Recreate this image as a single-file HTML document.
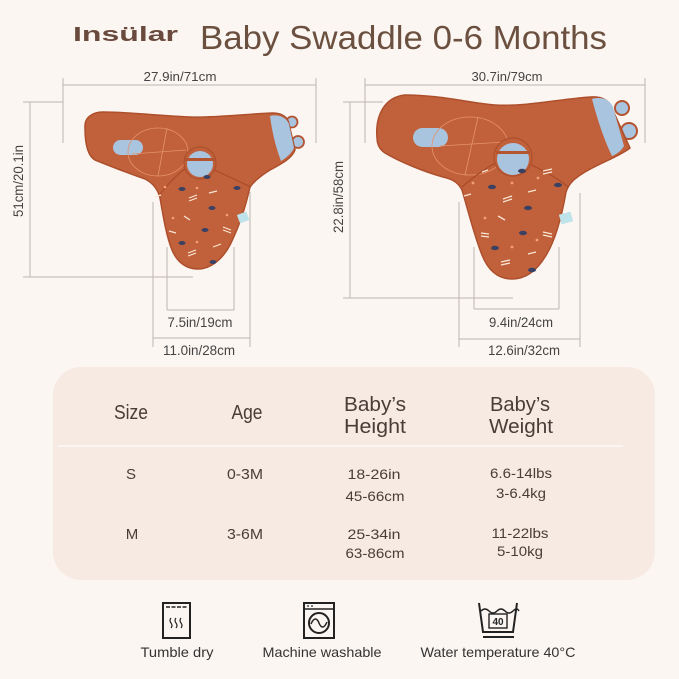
<!DOCTYPE html>
<html><head><meta charset="utf-8">
<style>
html,body{margin:0;padding:0;background:#fcf6f2;}
svg{display:block;}
text{font-family:"Liberation Sans",sans-serif;}
</style></head>
<body>
<svg width="679" height="679" viewBox="0 0 679 679" xmlns="http://www.w3.org/2000/svg">
<rect width="679" height="679" fill="#fcf6f2"/>

<!-- Title -->
<text x="73" y="41" font-size="20" font-weight="bold" fill="#6a4a3c" textLength="105" lengthAdjust="spacingAndGlyphs">Insülar</text>
<text x="200" y="49" font-size="33" fill="#6b5040" textLength="407" lengthAdjust="spacingAndGlyphs">Baby Swaddle 0-6 Months</text>

<!-- Dimension lines -->
<g stroke="#bdb5b0" stroke-width="1" fill="none">
  <!-- left swaddle -->
  <line x1="63" y1="85" x2="316" y2="85"/>
  <line x1="63" y1="78" x2="63" y2="143"/>
  <line x1="316" y1="78" x2="316" y2="143"/>
  <line x1="30" y1="102" x2="30" y2="277"/>
  <line x1="23" y1="102" x2="63" y2="102"/>
  <line x1="23" y1="277" x2="193" y2="277"/>
  <line x1="167" y1="247" x2="167" y2="310"/>
  <line x1="234" y1="247" x2="234" y2="310"/>
  <line x1="167" y1="310" x2="234" y2="310"/>
  <line x1="153" y1="202" x2="153" y2="347"/>
  <line x1="250" y1="192" x2="250" y2="347"/>
  <line x1="153" y1="338" x2="250" y2="338"/>
  <!-- right swaddle -->
  <line x1="365" y1="85" x2="645" y2="85"/>
  <line x1="365" y1="78" x2="365" y2="143"/>
  <line x1="645" y1="78" x2="645" y2="143"/>
  <line x1="350" y1="102" x2="350" y2="298"/>
  <line x1="343" y1="102" x2="383" y2="102"/>
  <line x1="343" y1="298" x2="513" y2="298"/>
  <line x1="474" y1="247" x2="474" y2="309"/>
  <line x1="559" y1="247" x2="559" y2="309"/>
  <line x1="474" y1="309" x2="559" y2="309"/>
  <line x1="459" y1="202" x2="459" y2="347"/>
  <line x1="580" y1="193" x2="580" y2="347"/>
  <line x1="459" y1="339" x2="580" y2="339"/>
</g>

<g fill="#444" font-size="13" text-anchor="middle">
  <text x="180" y="81" textLength="73" lengthAdjust="spacingAndGlyphs">27.9in/71cm</text>
  <text x="507" y="81" textLength="71" lengthAdjust="spacingAndGlyphs">30.7in/79cm</text>
  <text x="200" y="327" font-size="13.5" textLength="65" lengthAdjust="spacingAndGlyphs">7.5in/19cm</text>
  <text x="199" y="355" font-size="13.5" textLength="72" lengthAdjust="spacingAndGlyphs">11.0in/28cm</text>
  <text x="521" y="327" font-size="13.5" textLength="64" lengthAdjust="spacingAndGlyphs">9.4in/24cm</text>
  <text x="524" y="355" font-size="13.5" textLength="72" lengthAdjust="spacingAndGlyphs">12.6in/32cm</text>
  <text transform="translate(23,181) rotate(-90)" font-size="13.5" textLength="72" lengthAdjust="spacingAndGlyphs">51cm/20.1in</text>
  <text transform="translate(343,197) rotate(-90)" font-size="13.5" textLength="72" lengthAdjust="spacingAndGlyphs">22.8in/58cm</text>
</g>

<!-- LEFT SWADDLE -->
<g>
  <circle cx="292" cy="122" r="5.5" fill="#a9c4de" stroke="#b4532f" stroke-width="1.8"/>
  <circle cx="298" cy="142" r="6" fill="#a9c4de" stroke="#b4532f" stroke-width="1.8"/>
  <path d="M85,128 C84,118 92,112 103,112 C130,112 160,116 190,117 C215,118 245,114 273,113 C283,113 288,118 289,124 L295,150 C292,158 283,163 270,170 C262,175 255,180 250,187 C246,205 240,225 230,245 C222,260 210,269 198,269 C186,269 177,262 172,250 C166,235 163,215 160,198 C158,190 153,183 145,179 C130,174 110,166 95,160 C88,156 85,145 85,128 Z" fill="#c1613b" stroke="#ad4f2c" stroke-width="1.5"/>
  <path d="M270,116 C278,114 286,117 289,124 L294,148 C291,154 286,158 281,161 C276,148 272,132 270,116 Z" fill="#a9c4de"/>
  <rect x="113" y="140" width="30" height="15" rx="7.5" fill="#a9c4de"/>
  <ellipse cx="158" cy="152" rx="30" ry="24" fill="none" stroke="#e5936a" stroke-width="0.8"/>
  <line x1="167" y1="128" x2="158" y2="176" stroke="#e5936a" stroke-width="0.8"/>
  <line x1="132" y1="154" x2="186" y2="150" stroke="#e5936a" stroke-width="0.8"/>
  <path d="M160,194 C168,184 178,174 186,168 M214,170 C228,176 240,182 251,187" stroke="#a94a29" stroke-width="1.2" fill="none"/>
  <circle cx="200" cy="163" r="16" fill="#c1613b" stroke="#ad4f2c" stroke-width="1.2"/>
  <circle cx="200" cy="164" r="13" fill="#a9c4de"/>
  <rect x="185" y="158" width="30" height="3" fill="#b5552f"/>
  <rect x="238" y="213" width="10" height="9" fill="#bfe3ea" transform="rotate(-20 243 217)"/>
  <!-- pattern -->
  <g fill="#3b4163">
    <ellipse cx="182" cy="189" rx="3.5" ry="2"/><ellipse cx="207" cy="177" rx="3.5" ry="2"/>
    <ellipse cx="237" cy="188" rx="3.5" ry="2"/><ellipse cx="212" cy="208" rx="3.5" ry="2"/>
    <ellipse cx="205" cy="230" rx="3.5" ry="2"/><ellipse cx="182" cy="243" rx="3.5" ry="2"/>
    <ellipse cx="213" cy="262" rx="3.5" ry="2"/>
  </g>
  <g stroke="#f6e6d4" stroke-width="1.2">
    <path d="M189,198 l8,-3 M189,201 l8,-3"/><path d="M209,193 l8,-2"/>
    <path d="M223,227 l8,3 M223,230 l8,3"/><path d="M188,253 l8,-3 M188,256 l8,-3"/>
    <path d="M169,231 l7,2"/><path d="M155,197 l6,-2"/>
    <path d="M184,216 l6,4"/><path d="M213,247 l8,-3"/>
  </g>
  <g fill="#f1a171">
    <circle cx="165" cy="187" r="1.3"/><circle cx="197" cy="188" r="1.3"/>
    <circle cx="227" cy="215" r="1.3"/><circle cx="173" cy="218" r="1.3"/>
    <circle cx="197" cy="242" r="1.3"/>
  </g>
</g>

<!-- RIGHT SWADDLE -->
<g>
  <circle cx="622" cy="108" r="7" fill="#a9c4de" stroke="#b4532f" stroke-width="2"/>
  <circle cx="629" cy="131" r="8" fill="#a9c4de" stroke="#b4532f" stroke-width="2"/>
  <path d="M377,138 C375,115 385,97 405,95 C440,95 470,103 495,105 C525,107 560,99 590,97 C600,96 606,99 610,104 L630,148 C620,156 600,163 585,172 C575,178 569,183 566,192 C562,215 556,240 545,257 C537,270 526,279 512,279 C498,279 488,270 482,255 C474,235 468,210 462,190 C458,182 452,179 443,177 C425,172 400,162 385,153 C379,149 377,143 377,138 Z" fill="#c1613b" stroke="#ad4f2c" stroke-width="1.5"/>
  <path d="M592,99 C602,96 610,100 613,107 L624,146 C621,151 617,154 612,156 C604,140 597,118 592,99 Z" fill="#a9c4de"/>
  <rect x="413" y="128" width="35" height="19" rx="9.5" fill="#a9c4de"/>
  <ellipse cx="470" cy="146" rx="38" ry="29" fill="none" stroke="#e5936a" stroke-width="0.8"/>
  <line x1="478" y1="117" x2="465" y2="175" stroke="#e5936a" stroke-width="0.8"/>
  <line x1="440" y1="146" x2="505" y2="142" stroke="#e5936a" stroke-width="0.8"/>
  <path d="M462,187 C472,178 486,168 497,162 M530,164 C545,172 558,178 568,187" stroke="#a94a29" stroke-width="1.2" fill="none"/>
  <circle cx="513" cy="157" r="19" fill="#c1613b" stroke="#ad4f2c" stroke-width="1.2"/>
  <circle cx="513" cy="159" r="16" fill="#a9c4de"/>
  <rect x="496" y="151" width="34" height="3" fill="#b5552f"/>
  <rect x="560" y="213" width="12" height="10" fill="#bfe3ea" transform="rotate(-15 566 218)"/>
  <g fill="#3b4163">
    <ellipse cx="522" cy="171" rx="4" ry="2.2"/><ellipse cx="492" cy="187" rx="4" ry="2.2"/>
    <ellipse cx="558" cy="185" rx="4" ry="2.2"/><ellipse cx="528" cy="208" rx="4" ry="2.2"/>
    <ellipse cx="523" cy="233" rx="4" ry="2.2"/><ellipse cx="495" cy="248" rx="4" ry="2.2"/>
    <ellipse cx="532" cy="270" rx="4" ry="2.2"/>
  </g>
  <g stroke="#f6e6d4" stroke-width="1.3">
    <path d="M543,171 l9,-2 M543,174 l9,-2"/><path d="M503,199 l9,-3 M503,202 l9,-3"/>
    <path d="M528,192 l8,-2"/><path d="M498,216 l7,4"/>
    <path d="M543,232 l9,2 M543,235 l9,2"/><path d="M481,233 l8,1 M481,236 l8,1"/>
    <path d="M528,254 l8,-2"/><path d="M501,262 l9,-2 M501,265 l9,-2"/>
    <path d="M464,196 l7,-2"/><path d="M482,172 l6,-2"/>
  </g>
  <g fill="#f1a171">
    <circle cx="512" cy="183" r="1.4"/><circle cx="538" cy="178" r="1.4"/>
    <circle cx="485" cy="218" r="1.4"/><circle cx="512" cy="247" r="1.4"/>
    <circle cx="537" cy="240" r="1.4"/><circle cx="473" cy="183" r="1.4"/>
  </g>
</g>

<!-- Table panel -->
<rect x="53" y="367" width="602" height="213" rx="28" fill="#f7eae2"/>
<line x1="58" y1="446" x2="623" y2="446" stroke="#fdf8f5" stroke-width="1.6"/>
<g fill="#4a3c36" text-anchor="middle">
  <text x="131" y="419" font-size="20" textLength="34" lengthAdjust="spacingAndGlyphs">Size</text>
  <text x="247" y="419" font-size="20" textLength="31" lengthAdjust="spacingAndGlyphs">Age</text>
  <text x="375" y="411" font-size="20" textLength="62" lengthAdjust="spacingAndGlyphs">Baby’s</text>
  <text x="375" y="433" font-size="20" textLength="62" lengthAdjust="spacingAndGlyphs">Height</text>
  <text x="520" y="411" font-size="20" textLength="60" lengthAdjust="spacingAndGlyphs">Baby’s</text>
  <text x="521" y="433" font-size="20" textLength="64" lengthAdjust="spacingAndGlyphs">Weight</text>

  <text x="131" y="479" font-size="15">S</text>
  <text x="245" y="479" font-size="15" textLength="36" lengthAdjust="spacingAndGlyphs">0-3M</text>
  <text x="374" y="479" font-size="14" textLength="53" lengthAdjust="spacingAndGlyphs">18-26in</text>
  <text x="375" y="501" font-size="14" textLength="59" lengthAdjust="spacingAndGlyphs">45-66cm</text>
  <text x="521" y="478" font-size="14" textLength="62" lengthAdjust="spacingAndGlyphs">6.6-14lbs</text>
  <text x="521" y="498" font-size="14" textLength="50" lengthAdjust="spacingAndGlyphs">3-6.4kg</text>

  <text x="132" y="539" font-size="15">M</text>
  <text x="245" y="539" font-size="15" textLength="36" lengthAdjust="spacingAndGlyphs">3-6M</text>
  <text x="374" y="539" font-size="14" textLength="53" lengthAdjust="spacingAndGlyphs">25-34in</text>
  <text x="375" y="558" font-size="14" textLength="59" lengthAdjust="spacingAndGlyphs">63-86cm</text>
  <text x="520" y="538" font-size="14" textLength="57" lengthAdjust="spacingAndGlyphs">11-22lbs</text>
  <text x="520" y="556" font-size="14" textLength="46" lengthAdjust="spacingAndGlyphs">5-10kg</text>
</g>

<!-- Icons -->
<g stroke="#222" fill="none">
  <rect x="163" y="603" width="27" height="35" stroke-width="2"/>
  <line x1="166" y1="607" x2="187" y2="607" stroke-width="1.5" stroke-dasharray="4,1.5"/>
  <path d="M171,618 q-2,2.5 0,5 q2,2.5 0,5 M176,618 q-2,2.5 0,5 q2,2.5 0,5 M181,618 q-2,2.5 0,5 q2,2.5 0,5" stroke-width="1.2"/>

  <rect x="304" y="603" width="30" height="35" stroke-width="2"/>
  <line x1="304" y1="609" x2="334" y2="609" stroke-width="1.5"/>
  <circle cx="319" cy="623" r="10" stroke-width="2"/>
  <path d="M311,624 C314,617 317,618 319,623 C321,628 324,629 327,622" stroke-width="1.5"/>

  <path d="M479,603 L483,632 L513,632 L517,603" stroke-width="2"/>
  <path d="M481,611 q4,-4 8,0 t8,0 t8,0 t8,0 t6,0" stroke-width="1.4"/>
  <line x1="483" y1="637" x2="514" y2="637" stroke-width="2"/>
  <rect x="489" y="614" width="18" height="14" stroke-width="1.4"/>
</g>
<g fill="#222">
  <circle cx="308" cy="606" r="0.9"/><circle cx="312" cy="606" r="0.9"/>
</g>
<text x="498" y="625" font-size="10" font-weight="bold" fill="#222" text-anchor="middle">40</text>

<g fill="#333" font-size="14" text-anchor="middle">
  <text x="177" y="657" textLength="73" lengthAdjust="spacingAndGlyphs">Tumble dry</text>
  <text x="322" y="657" textLength="119" lengthAdjust="spacingAndGlyphs">Machine washable</text>
  <text x="498" y="657" textLength="155" lengthAdjust="spacingAndGlyphs">Water temperature 40°C</text>
</g>
</svg>
</body></html>
